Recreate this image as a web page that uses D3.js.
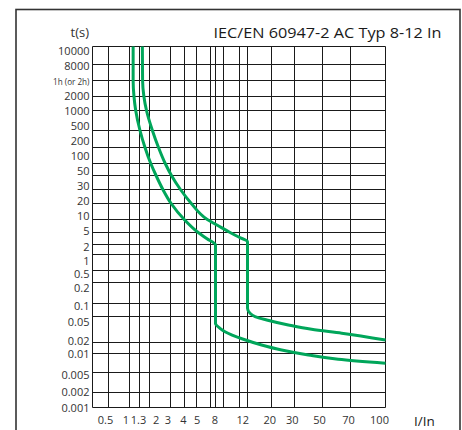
<!DOCTYPE html>
<html>
<head>
<meta charset="utf-8">
<script src="https://cdn.jsdelivr.net/npm/d3@7"></script>
<style>
  body { margin: 0; background: #fff; }
  svg text { font-family: "Open Sans", "Noto Sans", sans-serif; }
</style>
</head>
<body>
<script>
// values
const xGridValues = [0.5, 1, 1.3, 2, 3, 4, 5, 7, 8, 10, 11, 12, 20, 30, 50, 70, 100];
const xTickValues = [0.5, 1, 1.3, 2, 3, 4, 5, 8, 12, 20, 30, 50, 70, 100];
const yTickValues = [10000, 8000, 3600, 2000, 1000, 500, 200, 100, 50, 30, 20, 10,
  5, 2, 1, 0.5, 0.2, 0.1, 0.05, 0.02, 0.01, 0.005, 0.002, 0.001];
const yTickLabels = ["10000", "8000", "1h (or 2h)", "2000", "1000", "500", "200", "100", "50", "30", "20", "10",
  "5", "2", "1", "0.5", "0.2", "0.1", "0.05", "0.02", "0.01", "0.005", "0.002", "0.001"];

// [I/In, t(s)]
const lowerCurve = [
  [1.1, 10000], [1.1, 3600], [1.125, 2000], [1.177, 1000], [1.328, 500], [1.647, 200],
  [2.05, 100], [2.27, 50], [2.59, 30], [3.04, 20], [3.98, 10], [5.21, 5], [6.44, 3.11],
  [8, 1.93], [8, 0.039], [9.07, 0.033], [10.09, 0.0292], [11.47, 0.0224], [16.2, 0.0171],
  [23.9, 0.01247], [38.6, 0.00947], [60.4, 0.0081], [100, 0.0070]
];
const upperCurve = [
  [1.47, 10000], [1.485, 3600], [1.571, 2000], [1.758, 1000], [2.115, 500], [2.38, 200],
  [2.71, 100], [3.06, 50], [3.68, 30], [4.54, 20], [6.48, 10], [8.32, 7.46], [10.4, 5],
  [10.98, 3.47], [12, 2.48], [12, 0.0774], [12.66, 0.0593], [14.08, 0.0498], [18.06, 0.0442],
  [26.9, 0.0371], [41.0, 0.0318], [63.0, 0.0277], [100, 0.0218]
];

// layout: the printed grid is not a true log grid, so each line gets its own offset
const margin = {top: 46.5, left: 92.5}
    , width = 293
    , height = 361;
const xGridPx = [16, 37, 47, 57, 78, 92, 104, 118, 123, 131, 147, 155, 179, 202, 230, 258, 293];
const yGridPx = [0, 18, 34, 50, 64, 84, 101, 117, 129, 143, 157, 173, 186, 198, 208, 224, 236, 257, 270, 296, 307, 326, 346, 361];
const xLabelNudge = [-3.5, -4, -1.5, 6.2, -3.2, -1.5, 0.2, -1.2, -5.2, -2.2, -2.8, -3.5, -2.5, -6.5];
const yLabelNudge = [4.2, 1.2, 0.5, -0.5, 0.5, -4.5, -6.5, -7.8, -4.5, -3.5, -2.5, -3.5, -1.5, 2.2, 6.5, 3.8, 5.2, 2.2, 5.2, -1.5, 0.8, 2.5, -0.8, 0.2];

const green = "#00a65a", ink = "#1a1a1a";

const x = d3.scaleLog().domain(xGridValues).range(xGridPx);
const y = d3.scaleLog().domain(yTickValues).range(yGridPx);

const root = d3.select("body").append("svg")
    .attr("width", 462)
    .attr("height", 430);

// outer frame
root.append("rect")
    .attr("x", 16)
    .attr("y", 9.5)
    .attr("width", 444)
    .attr("height", 440)
    .attr("fill", "none")
    .attr("stroke", "#333")
    .attr("stroke-width", 1.6);

root.append("text")
    .attr("x", 441.5)
    .attr("y", 38)
    .attr("text-anchor", "end")
    .attr("font-size", "14.5px")
    .attr("fill", ink)
    .attr("textLength", 228)
    .attr("lengthAdjust", "spacingAndGlyphs")
    .text("IEC/EN 60947-2 AC Typ 8-12 In");

root.append("text")
    .attr("x", 89)
    .attr("y", 37)
    .attr("text-anchor", "end")
    .attr("font-size", "13px")
    .attr("fill", "#333")
    .text("t(s)");

root.append("text")
    .attr("x", 414)
    .attr("y", 425.5)
    .attr("font-size", "13.5px")
    .attr("fill", ink)
    .text("I/In");

const svg = root.append("g")
    .attr("transform", `translate(${margin.left}, ${margin.top})`);

// grid
svg.selectAll(".vline")
    .data(xGridValues)
  .enter().append("line")
    .attr("x1", d => x(d)).attr("x2", d => x(d))
    .attr("y1", 0).attr("y2", height)
    .attr("stroke", ink);

svg.selectAll(".hline")
    .data(yTickValues)
  .enter().append("line")
    .attr("x1", 0).attr("x2", width)
    .attr("y1", d => y(d)).attr("y2", d => y(d))
    .attr("stroke", ink);

svg.append("line")
    .attr("x1", 0).attr("x2", 0)
    .attr("y1", 0).attr("y2", height)
    .attr("stroke", ink);

// axes
const yAxis = svg.append("g")
    .call(d3.axisLeft(y)
      .tickValues(yTickValues)
      .tickFormat((d, i) => yTickLabels[i])
      .tickSize(0)
      .tickPadding(3));
yAxis.select(".domain").remove();
yAxis.selectAll("text")
    .attr("font-family", null)
    .attr("font-size", "11px")
    .attr("fill", "#333")
    .attr("y", (d, i) => yLabelNudge[i]);
yAxis.selectAll("text")
    .filter(d => d === 3600)
    .attr("font-size", "9.5px")
    .attr("textLength", 36.5)
    .attr("lengthAdjust", "spacingAndGlyphs");

const xAxis = svg.append("g")
    .attr("transform", `translate(0, ${height})`)
    .call(d3.axisBottom(x)
      .tickValues(xTickValues)
      .tickFormat(d => String(d))
      .tickSize(0)
      .tickPadding(9));
xAxis.select(".domain").remove();
xAxis.selectAll("text")
    .attr("font-family", null)
    .attr("font-size", "11px")
    .attr("fill", "#333")
    .attr("x", (d, i) => xLabelNudge[i]);

// trip curves (time always falls along a curve, so interpolate x as a function of y)
const line = d3.line()
    .x(d => x(d[0]))
    .y(d => y(d[1]))
    .curve(d3.curveMonotoneY);

svg.selectAll(".curve")
    .data([lowerCurve, upperCurve])
  .enter().append("path")
    .attr("class", "curve")
    .attr("d", line)
    .attr("fill", "none")
    .attr("stroke", green)
    .attr("stroke-width", 3)
    .attr("stroke-linejoin", "round");
</script>
</body>
</html>
